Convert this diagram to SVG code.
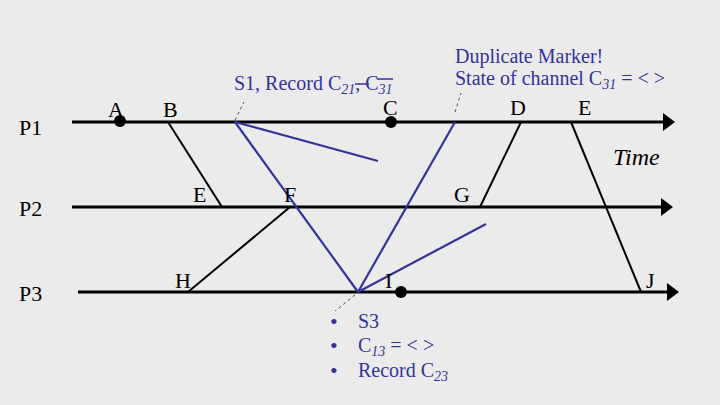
<svg xmlns="http://www.w3.org/2000/svg" width="720" height="405" viewBox="0 0 720 405">
<defs>
<style>
.t{font-family:"Liberation Serif","Times New Roman",serif;font-size:22px;fill:#000}
.b{font-family:"Liberation Serif","Times New Roman",serif;font-size:20px;fill:#333399}
.s{font-size:14px;font-style:italic}
.pl{stroke:#000;stroke-width:3;fill:none}
.msg{stroke:#000;stroke-width:2;fill:none}
.bl{stroke:#333399;stroke-width:2.2;fill:none}
.ds{stroke:#555;stroke-width:1;stroke-dasharray:3,3;fill:none}
</style>
<marker id="ah" markerWidth="6" markerHeight="6" refX="1" refY="3" orient="auto" markerUnits="strokeWidth">
<path d="M0,0 L4,3 L0,6 Z" fill="#000"/>
</marker>
</defs>
<rect width="720" height="405" fill="#ebebeb"/>
<g id="processes">
<line class="pl" x1="72" y1="122" x2="666" y2="122" marker-end="url(#ah)"/>
<line class="pl" x1="72" y1="207" x2="664" y2="207" marker-end="url(#ah)"/>
<line class="pl" x1="78" y1="292" x2="670" y2="292" marker-end="url(#ah)"/>
<text class="t" x="19" y="135">P1</text>
<text class="t" x="19" y="216">P2</text>
<text class="t" x="19" y="301">P3</text>
</g>
<g id="connectors">
<line class="msg" x1="168" y1="122" x2="222" y2="207"/>
<line class="msg" x1="188" y1="292" x2="290" y2="207"/>
<line class="msg" x1="521" y1="122" x2="480" y2="207"/>
<line class="msg" x1="571" y1="122" x2="641" y2="292"/>
<line class="bl" x1="235" y1="122" x2="378" y2="161"/>
<line class="bl" x1="235" y1="122" x2="358" y2="292"/>
<line class="bl" x1="358" y1="292" x2="455" y2="122"/>
<line class="bl" x1="358" y1="292" x2="486" y2="224"/>
<line class="ds" x1="235" y1="120" x2="244" y2="102"/>
<line class="ds" x1="455" y1="112" x2="461" y2="93"/>
<line class="ds" x1="355" y1="295" x2="335" y2="311"/>
</g>
<g id="A"><circle cx="120" cy="121" r="6" fill="#000"/><text class="t" x="108" y="117">A</text></g>
<g id="B"><text class="t" x="163" y="117">B</text></g>
<g id="E2"><text class="t" x="193" y="202">E</text></g>
<g id="F"><text class="t" x="284" y="202">F</text></g>
<g id="H"><text class="t" x="175" y="288">H</text></g>
<g id="C"><circle cx="391" cy="122" r="6" fill="#000"/><text class="t" x="383" y="115">C</text></g>
<g id="G"><text class="t" x="454" y="202">G</text></g>
<g id="I"><circle cx="401" cy="292" r="6" fill="#000"/><text class="t" x="385" y="288">I</text></g>
<g id="D"><text class="t" x="510" y="115">D</text></g>
<g id="E"><text class="t" x="578" y="115">E</text></g>
<g id="J"><text class="t" x="646" y="288">J</text></g>
<g id="time"><text class="t" x="613" y="165" style="font-style:italic;font-size:24px">Time</text></g>
<g id="label-s1">
<text class="b" x="234" y="90">S1, Record C<tspan class="s" dy="4">21</tspan><tspan dy="-4">, C</tspan><tspan class="s" dy="4">31</tspan></text>
<line x1="355" y1="84" x2="369" y2="84" stroke="#333399" stroke-width="1.5"/>
<line x1="377" y1="79" x2="393" y2="79" stroke="#333399" stroke-width="1.5"/>
</g>
<g id="label-dup">
<text class="b" x="455" y="63">Duplicate Marker!</text>
<text class="b" x="455" y="85">State of channel C<tspan class="s" dy="4">31</tspan><tspan dy="-4"> = &lt; &gt;</tspan></text>
</g>
<g id="label-s3">
<text class="b" x="330" y="329" style="font-size:22px">•</text><text class="b" x="358" y="328">S3</text>
<text class="b" x="330" y="353" style="font-size:22px">•</text><text class="b" x="358" y="352">C<tspan class="s" dy="4">13</tspan><tspan dy="-4"> = &lt; &gt;</tspan></text>
<text class="b" x="330" y="378" style="font-size:22px">•</text><text class="b" x="358" y="377">Record C<tspan class="s" dy="4">23</tspan></text>
</g>
</svg>
